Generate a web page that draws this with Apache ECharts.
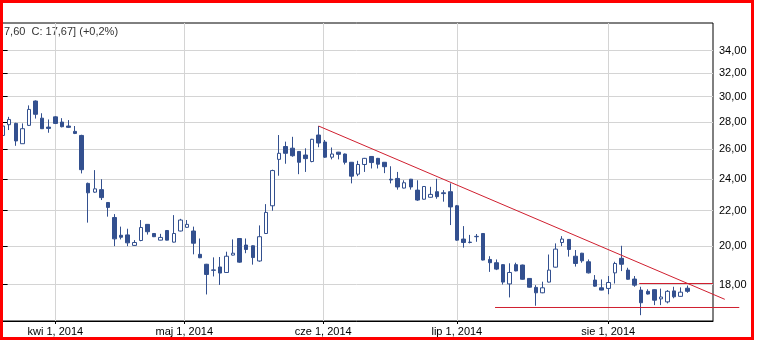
<!DOCTYPE html>
<html>
<head>
<meta charset="utf-8">
<script src="https://cdn.jsdelivr.net/npm/echarts@6/dist/echarts.min.js"></script>
<style>
  html, body { margin: 0; padding: 0; background: #fff; }
  #chart { width: 758px; height: 340px; }
</style>
</head>
<body>
<div id="chart"></div>
<script>
// ---- data ----
const dates = [
  '2014-03-20','2014-03-21','2014-03-24','2014-03-25','2014-03-26','2014-03-27','2014-03-28','2014-03-31',
  '2014-04-01','2014-04-02','2014-04-03','2014-04-04','2014-04-07','2014-04-08','2014-04-09','2014-04-10','2014-04-11',
  '2014-04-14','2014-04-15','2014-04-16','2014-04-17','2014-04-22','2014-04-23','2014-04-24','2014-04-25',
  '2014-04-28','2014-04-29','2014-04-30',
  '2014-05-02','2014-05-05','2014-05-06','2014-05-07','2014-05-08','2014-05-09','2014-05-12','2014-05-13','2014-05-14',
  '2014-05-15','2014-05-16','2014-05-19','2014-05-20','2014-05-21','2014-05-22','2014-05-23','2014-05-26','2014-05-27',
  '2014-05-28','2014-05-29','2014-05-30',
  '2014-06-02','2014-06-03','2014-06-04','2014-06-05','2014-06-06','2014-06-09','2014-06-10','2014-06-11','2014-06-12',
  '2014-06-13','2014-06-16','2014-06-17','2014-06-18','2014-06-20','2014-06-23','2014-06-24','2014-06-25','2014-06-26',
  '2014-06-27','2014-06-30',
  '2014-07-01','2014-07-02','2014-07-03','2014-07-04','2014-07-07','2014-07-08','2014-07-09','2014-07-10','2014-07-11',
  '2014-07-14','2014-07-15','2014-07-16','2014-07-17','2014-07-18','2014-07-21','2014-07-22','2014-07-23','2014-07-24',
  '2014-07-25','2014-07-28','2014-07-29','2014-07-30','2014-07-31',
  '2014-08-01','2014-08-04','2014-08-05','2014-08-06','2014-08-07','2014-08-08','2014-08-11','2014-08-12','2014-08-13',
  '2014-08-14','2014-08-18','2014-08-19','2014-08-20'
];
const openValues = [
  27.00,27.80,27.90,26.40,27.75,29.65,28.30,27.62,
  28.40,28.00,27.70,27.30,27.00,23.70,23.14,23.30,22.50,21.60,20.58,20.60,20.02,20.29,21.20,20.68,20.31,20.85,20.20,20.82,
  21.03,20.82,19.54,19.02,18.73,18.88,18.60,19.50,20.40,20.04,20.00,19.19,20.68,22.30,25.30,26.20,26.08,25.85,25.60,25.15,27.03,
  26.52,25.45,25.80,25.67,25.10,24.30,24.95,25.50,25.37,25.10,23.97,24.02,23.40,23.97,23.27,22.70,22.82,23.17,23.10,23.17,
  22.30,20.37,20.20,20.50,20.68,19.27,19.10,19.00,18.03,19.00,18.98,18.30,17.86,17.60,18.12,18.87,20.18,20.35,19.44,19.60,19.15,18.22,17.84,
  17.81,18.58,19.33,18.72,18.27,17.73,17.67,17.75,17.31,17.17,17.69,17.43,17.82
];
const closeValues = [
  27.70,28.20,26.60,27.50,28.98,28.60,27.50,27.52,
  27.90,27.65,27.60,27.15,24.60,23.10,23.35,22.80,22.20,20.38,20.47,20.16,20.18,21.02,20.78,20.50,20.46,20.31,20.68,21.45,
  21.20,20.14,19.36,18.50,18.71,18.57,19.44,19.60,19.13,19.80,19.37,20.50,21.90,24.54,25.72,25.72,25.55,25.10,25.35,26.72,26.45,
  25.45,25.67,25.65,25.10,24.17,24.95,25.37,25.08,24.97,24.80,23.92,23.47,23.74,23.47,22.65,23.50,23.00,22.86,23.05,22.23,
  20.31,20.18,20.18,20.52,19.24,19.10,18.77,18.12,18.60,18.68,18.26,17.87,17.60,17.84,18.72,19.82,20.37,19.80,19.06,19.20,18.58,17.92,17.73,
  18.10,19.06,19.02,18.26,17.97,17.13,17.54,17.25,17.40,17.67,17.41,17.63,17.67
];
const lowValues = [
  26.20,27.40,26.25,26.40,27.70,28.27,27.48,27.20,
  27.85,27.60,27.55,27.10,24.35,21.30,23.10,22.65,21.65,19.98,20.35,19.98,20.00,20.25,20.62,20.48,20.30,20.30,20.18,20.80,
  21.00,19.54,19.34,17.52,18.40,17.98,18.58,19.48,19.10,19.60,19.00,19.15,20.65,22.00,24.20,25.00,25.48,24.30,24.45,25.10,26.15,
  25.40,25.30,25.30,24.95,23.70,24.17,24.45,24.68,24.68,24.37,23.70,23.30,23.38,23.30,22.60,22.68,22.80,22.73,22.55,21.16,
  20.28,19.90,20.13,20.22,19.22,18.63,18.72,18.00,17.38,18.66,18.24,17.85,16.99,17.58,18.10,18.85,19.98,19.42,18.90,19.10,18.55,17.89,17.72,
  17.53,18.05,18.67,18.24,17.89,16.56,17.52,17.02,17.02,17.10,17.34,17.42,17.60
];
const highValues = [
  28.20,28.40,27.95,27.90,29.30,29.70,28.68,28.20,
  28.45,28.30,28.15,27.70,27.05,23.75,24.57,23.97,22.52,21.80,21.07,20.95,20.31,21.45,21.22,20.70,20.66,20.87,21.74,21.52,
  21.45,21.07,20.40,19.04,19.38,19.40,19.68,20.35,20.42,20.40,20.02,21.14,22.40,24.60,27.03,26.55,26.90,25.87,26.07,26.75,27.70,
  26.67,26.13,25.82,25.70,25.12,25.20,25.40,25.52,25.40,25.12,24.83,24.45,23.90,23.99,23.90,23.52,23.48,24.00,23.27,23.70,
  22.35,21.10,20.60,20.65,20.70,19.44,19.27,19.02,19.07,19.10,19.00,18.32,17.97,18.14,19.53,20.13,20.53,20.37,19.77,19.62,19.27,18.47,18.25,
  18.42,19.15,20.00,18.84,18.42,17.89,17.77,17.77,17.80,17.73,17.89,17.86,17.95
];
// month tick positions (in trading-day index units) and labels
const monthTickPos = [8, 27.6, 48.7, 69, 92];
const monthTickLabels = ['kwi 1, 2014', 'maj 1, 2014', 'cze 1, 2014', 'lip 1, 2014', 'sie 1, 2014'];
const priceTicks = [18, 20, 22, 24, 26, 28, 30, 32, 34];
// trend lines: [tradingDayIndex, price]
const resistanceLine = [[48, 27.70], [109.7, 17.29]];
const supportLine = [[74.8, 16.91], [111.9, 16.91]];
const levelLine = [[96.7, 18.05], [107.9, 18.05]];
const headerText = '7,60  C: 17,67] (+0,2%)';

// ---- chart ----
const FONT = 'Liberation Sans, Arial, sans-serif';
const candleData = dates.map((d, i) => [i, openValues[i], closeValues[i], lowValues[i], highValues[i]]);
const BLUE = '#33508f';
const RED = '#d01f2f';

// axis ranges (index units / price)
const X_MIN = -0.401, X_MAX = 107.91;
const Y_MIN = 16.30, Y_MAX = 36.66;
const PLOT_W = 713, WIDE_W = 745;
const X_MAX_WIDE = X_MIN + (X_MAX - X_MIN) * WIDE_W / PLOT_W;

const chart = echarts.init(document.getElementById('chart'), null, { renderer: 'canvas' });
const trend = (data) => ({
  type: 'line', data: data, symbol: 'none', silent: true,
  xAxisIndex: 1, yAxisIndex: 1,
  itemStyle: { color: RED },
  lineStyle: { color: RED, width: 1 }, z: 5
});
chart.setOption({
  animation: false,
  backgroundColor: '#fff',
  grid: [
    {
      left: 0, width: PLOT_W, top: 23, bottom: 19,
      show: true, borderColor: '#000', borderWidth: 1, backgroundColor: '#fff',
      outerBoundsMode: 'none'
    },
    { left: 0, width: WIDE_W, top: 23, bottom: 19, show: false, outerBoundsMode: 'none' }
  ],
  xAxis: [
    {
      type: 'value', min: X_MIN, max: X_MAX, gridIndex: 0,
      axisLine: { show: true, lineStyle: { color: '#000', width: 1 } },
      axisTick: { show: true, length: 3, lineStyle: { color: '#000' }, customValues: monthTickPos },
      axisLabel: {
        customValues: monthTickPos, color: '#000', fontSize: 11, fontFamily: FONT, margin: 5,
        formatter: (v) => {
          const k = monthTickPos.findIndex(p => Math.abs(p - v) < 1e-6);
          return k >= 0 ? monthTickLabels[k] : '';
        }
      },
      splitLine: { show: true, lineStyle: { color: '#d4d4d4', width: 1 } }
    },
    {
      type: 'value', min: X_MIN, max: X_MAX_WIDE, gridIndex: 1, show: false,
      splitLine: { show: false }
    }
  ],
  yAxis: [
    {
      type: 'log', logBase: 10, min: Y_MIN, max: Y_MAX, position: 'right', gridIndex: 0,
      axisLine: { show: true, lineStyle: { color: '#000', width: 1 } },
      axisTick: { show: true, length: 5, lineStyle: { color: '#000' }, customValues: priceTicks },
      axisLabel: {
        customValues: priceTicks, color: '#000', fontSize: 11, fontFamily: FONT, margin: 6,
        formatter: (v) => Number(v).toFixed(2).replace('.', ',')
      },
      splitLine: { show: true, lineStyle: { color: '#d4d4d4', width: 1 } }
    },
    {
      type: 'log', logBase: 10, min: Y_MIN, max: Y_MAX, gridIndex: 1, show: false,
      splitLine: { show: false }
    }
  ],
  series: [
    {
      type: 'candlestick',
      data: candleData,
      encode: { x: 0, y: [1, 2, 3, 4] },
      xAxisIndex: 0, yAxisIndex: 0,
      barWidth: 4,
      itemStyle: {
        color: '#ffffff', color0: BLUE,
        borderColor: BLUE, borderColor0: BLUE, borderColorDoji: BLUE, borderWidth: 1
      },
      z: 3
    },
    trend(resistanceLine),
    trend(supportLine),
    trend(levelLine)
  ],
  graphic: [
    { type: 'text', left: 4, top: 26, silent: true,
      style: { text: headerText, font: '11px ' + FONT, fill: '#333' } },
    { type: 'rect', silent: true, z: 100,
      shape: { x: 1.5, y: 1.5, width: 751, height: 337 },
      style: { fill: 'none', stroke: '#ff0000', lineWidth: 3 } }
  ]
});
</script>
</body>
</html>
